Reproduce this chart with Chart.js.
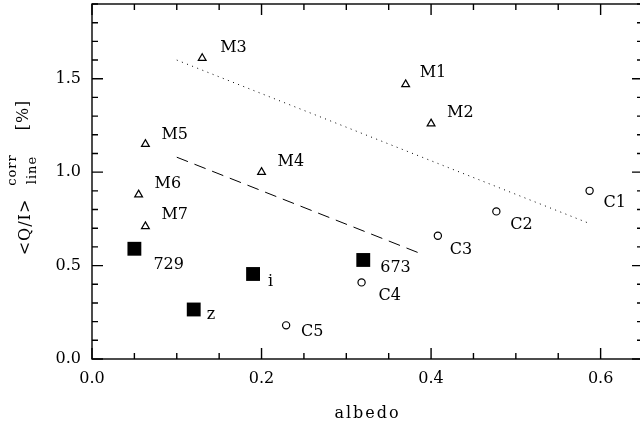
<!DOCTYPE html>
<html>
<head>
<meta charset="utf-8">
<script src="https://cdn.jsdelivr.net/npm/chart.js@4/dist/chart.umd.min.js"></script>
<style>
  html, body { margin: 0; padding: 0; background: #fff; overflow: hidden; }
  #wrap { width: 646px; height: 423px; }
</style>
</head>
<body>
<div id="wrap"><canvas id="albedoChart" width="646" height="423"></canvas></div>
<script>
// M-type objects (open triangles)
const mNames = ["M1", "M2", "M3", "M4", "M5", "M6", "M7"];
const mAlbedo = [0.37, 0.40, 0.13, 0.20, 0.063, 0.055, 0.063];
const mPol = [1.47, 1.26, 1.61, 1.00, 1.15, 0.88, 0.71];

// C-type objects (open circles)
const cNames = ["C1", "C2", "C3", "C4", "C5"];
const cAlbedo = [0.587, 0.477, 0.408, 0.318, 0.229];
const cPol = [0.90, 0.79, 0.66, 0.41, 0.18];

// filled squares
const sNames = ["729", "i", "z", "673"];
const sAlbedo = [0.05, 0.19, 0.12, 0.32];
const sPol = [0.59, 0.455, 0.265, 0.53];

// fitted relations
const dotAlbedo = [0.10, 0.587];
const dotPol = [1.60, 0.725];
const dashAlbedo = [0.10, 0.39];
const dashPol = [1.08, 0.56];

const xTickLabels = ["0.0", "0.2", "0.4", "0.6"];
const yTickLabels = ["0.0", "0.5", "1.0", "1.5"];

const FONT = "'DejaVu Serif', serif";

// label placement next to each marker (dx, dy to text baseline)
const labelShift = {
  M1: [14, -7], M2: [16, -7], M3: [18, -6], M4: [16, -6], M5: [16, -5], M6: [16, -7], M7: [16, -7],
  C1: [14, 16], C2: [14, 18], C3: [12, 18], C4: [17, 18], C5: [15, 11],
  "729": [19, 20], i: [15, 12], z: [13, 10], "673": [17, 12]
};

function toPoints(xs, ys) {
  return xs.map((v, i) => ({ x: v, y: ys[i] }));
}

function pickLabel(list) {
  return value => {
    const hit = list.find(l => Math.abs(parseFloat(l) - value) < 1e-6);
    return hit || "";
  };
}

// frame with inward ticks on all four sides, point labels, axis titles
const annotate = {
  id: "annotate",
  afterDraw(chart) {
    const { ctx, chartArea: a, scales: { x, y } } = chart;
    ctx.save();
    ctx.strokeStyle = "#000";
    ctx.lineWidth = 1.4;
    ctx.strokeRect(a.left, a.top, a.right - a.left, a.bottom - a.top);

    ctx.beginPath();
    x.ticks.forEach(t => {
      const px = x.getPixelForValue(t.value);
      const len = t.label ? 11 : 6;
      ctx.moveTo(px, a.bottom); ctx.lineTo(px, a.bottom - len);
      ctx.moveTo(px, a.top); ctx.lineTo(px, a.top + len);
    });
    y.ticks.forEach(t => {
      const py = y.getPixelForValue(t.value);
      const len = t.label ? 11 : 6;
      ctx.moveTo(a.left, py); ctx.lineTo(a.left + len, py);
      ctx.moveTo(a.right, py); ctx.lineTo(a.right - len, py);
    });
    ctx.stroke();

    // names beside the markers
    ctx.fillStyle = "#000";
    ctx.font = "16px " + FONT;
    ctx.textAlign = "left";
    ctx.textBaseline = "alphabetic";
    chart.data.datasets.forEach((ds, i) => {
      if (!ds.names) return;
      const meta = chart.getDatasetMeta(i);
      ds.names.forEach((name, j) => {
        const el = meta.data[j];
        const s = labelShift[name] || [14, 0];
        ctx.fillText(name, el.x + s[0], el.y + s[1]);
      });
    });

    // x title
    ctx.textAlign = "center";
    ctx.letterSpacing = "2px";
    ctx.fillText("albedo", (a.left + a.right) / 2, 418);

    // y title, rotated
    ctx.save();
    ctx.rotate(-Math.PI / 2);
    ctx.textBaseline = "middle";
    ctx.letterSpacing = "1px";
    ctx.font = "16px " + FONT;
    ctx.fillText("<Q/I>", -227, 26);
    ctx.fillText("[%]", -115, 24);
    ctx.font = "13px " + FONT;
    ctx.fillText("corr", -170, 13);
    ctx.fillText("line", -170, 33);
    ctx.restore();

    ctx.restore();
  }
};

new Chart(document.getElementById("albedoChart"), {
  type: "scatter",
  data: {
    datasets: [
      {
        data: toPoints(dotAlbedo, dotPol),
        showLine: true,
        borderColor: "#000",
        borderWidth: 1,
        borderDash: [1, 4.5],
        pointRadius: 0
      },
      {
        data: toPoints(dashAlbedo, dashPol),
        showLine: true,
        borderColor: "#000",
        borderWidth: 1,
        borderDash: [12, 7],
        pointRadius: 0
      },
      {
        names: mNames,
        data: toPoints(mAlbedo, mPol),
        pointStyle: "triangle",
        pointRadius: 4.5,
        borderColor: "#000",
        borderWidth: 1.2,
        backgroundColor: "rgba(0,0,0,0)"
      },
      {
        names: cNames,
        data: toPoints(cAlbedo, cPol),
        pointStyle: "circle",
        pointRadius: 3.6,
        borderColor: "#000",
        borderWidth: 1.2,
        backgroundColor: "rgba(0,0,0,0)"
      },
      {
        names: sNames,
        data: toPoints(sAlbedo, sPol),
        pointStyle: "rect",
        pointRadius: 9.8,
        borderWidth: 0,
        backgroundColor: "#000"
      }
    ]
  },
  options: {
    responsive: false,
    animation: false,
    events: [],
    layout: { autoPadding: false, padding: { top: 4, right: 3, left: 0, bottom: 0 } },
    plugins: {
      legend: { display: false },
      tooltip: { enabled: false }
    },
    scales: {
      x: {
        type: "linear",
        min: 0,
        max: 0.65,
        grid: { display: false, drawTicks: false },
        border: { display: false },
        ticks: {
          stepSize: 0.05,
          autoSkip: false,
          maxRotation: 0,
          minRotation: 0,
          padding: 10,
          color: "#000",
          font: { family: FONT, size: 16 },
          callback: pickLabel(xTickLabels)
        },
        afterFit: scale => {
          scale.height = 64;
          scale.paddingLeft = 0;
          scale.paddingRight = 0;
        }
      },
      y: {
        type: "linear",
        min: 0,
        max: 1.9,
        grid: { display: false, drawTicks: false },
        border: { display: false },
        ticks: {
          stepSize: 0.1,
          autoSkip: false,
          padding: 11,
          color: "#000",
          font: { family: FONT, size: 16 },
          callback: pickLabel(yTickLabels)
        },
        afterFit: scale => {
          scale.width = 92;
          scale.paddingTop = 0;
          scale.paddingBottom = 0;
        }
      }
    }
  },
  plugins: [annotate]
});
</script>
</body>
</html>
